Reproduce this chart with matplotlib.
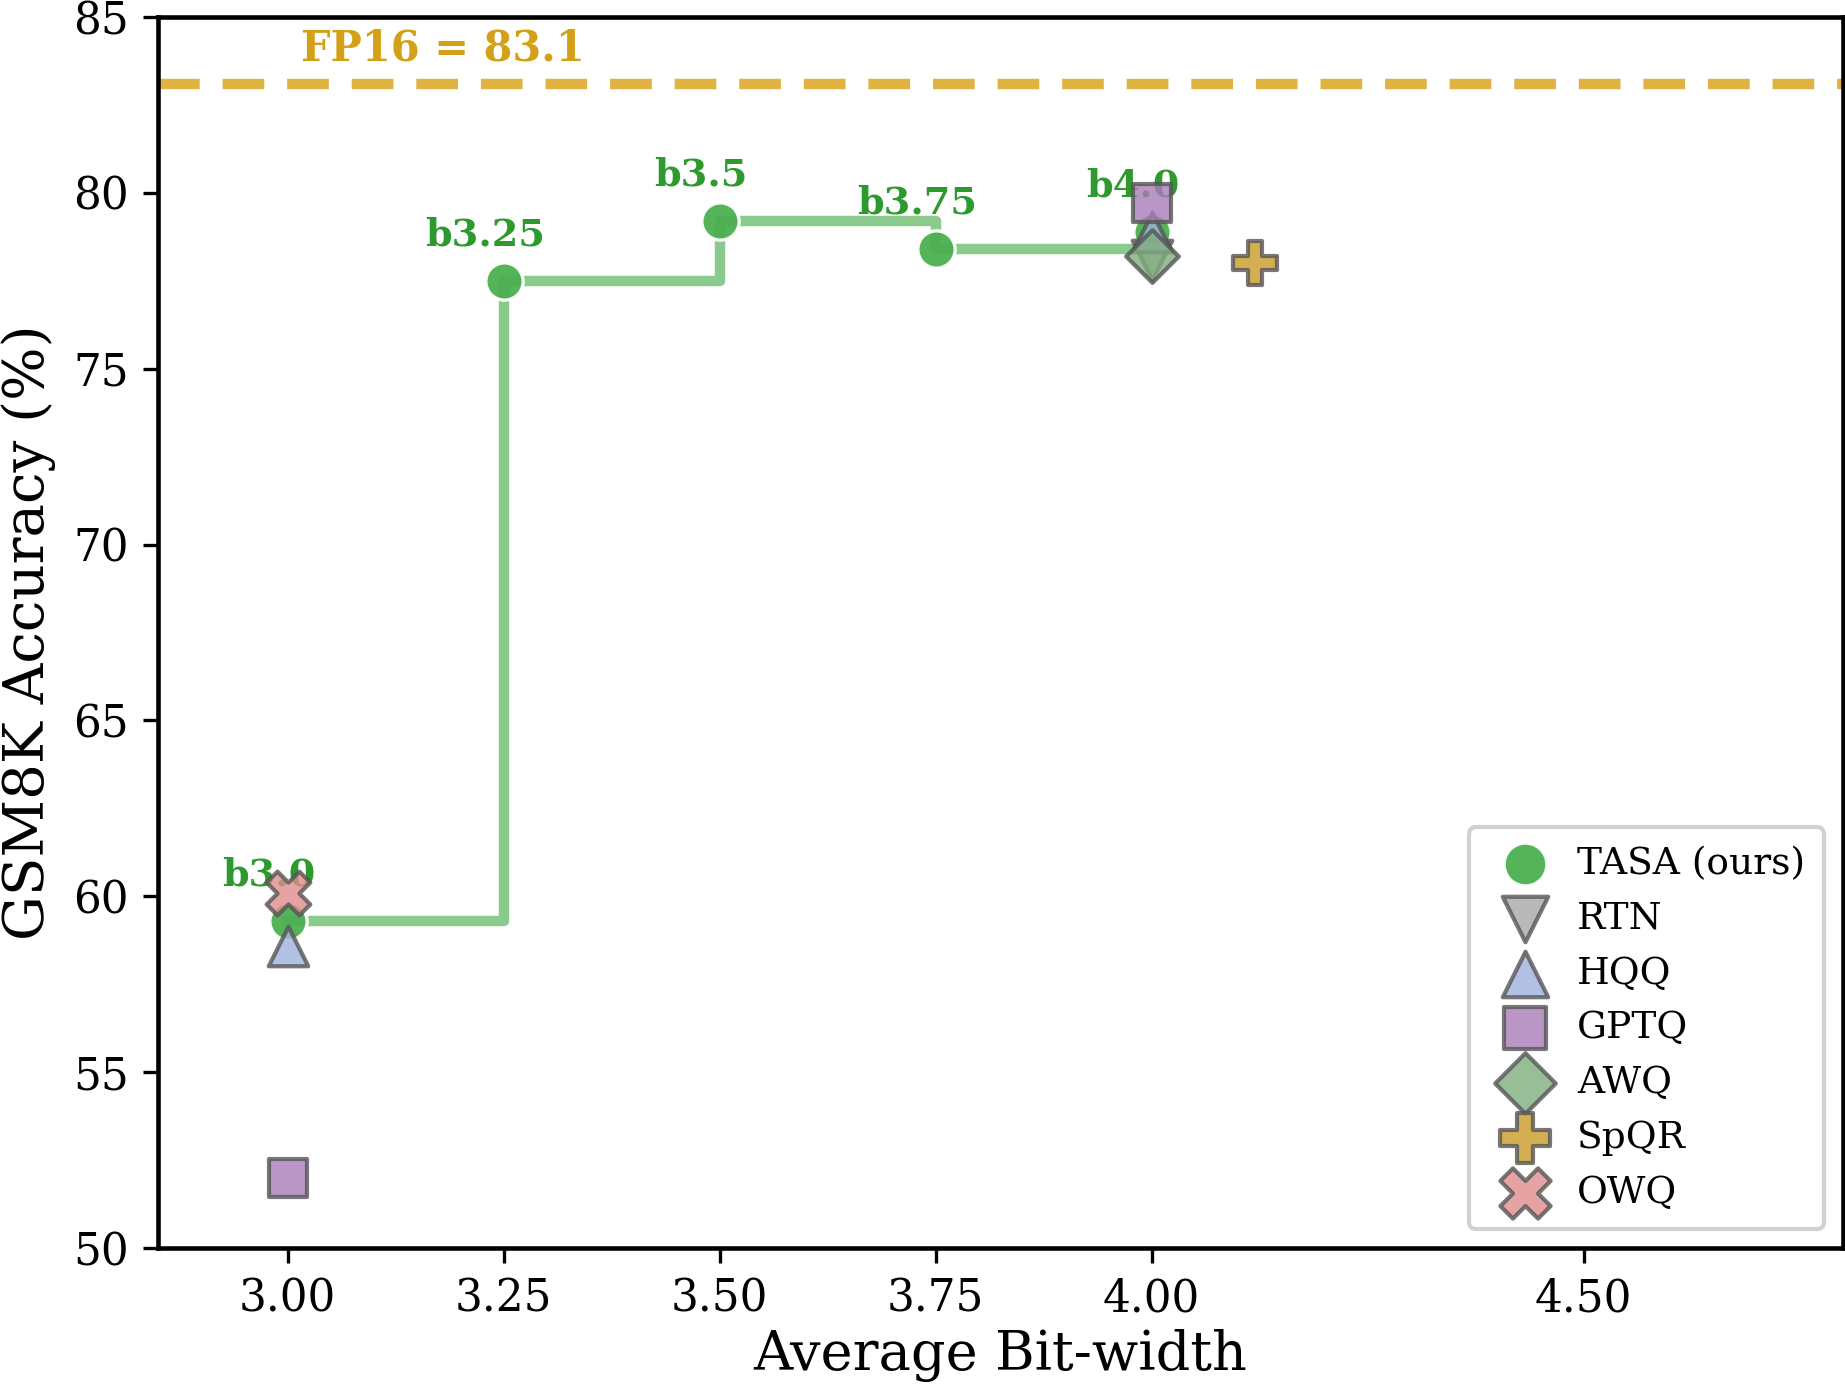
import matplotlib
matplotlib.use("Agg")
import matplotlib.pyplot as plt

plt.rcParams['font.family'] = ['DejaVu Serif']

# TASA (ours) step curve
tasa_bits = [3.0, 3.25, 3.5, 3.75, 4.0]
tasa_acc = [59.3, 77.5, 79.2, 78.4, 78.9]
tasa_labels = ['b3.0', 'b3.25', 'b3.5', 'b3.75', 'b4.0']

# baselines
rtn_bits, rtn_acc = [4.0], [78.1]
hqq_bits, hqq_acc = [3.0, 4.0], [58.6, 78.9]
gptq_bits, gptq_acc = [3.0, 4.0], [52.0, 79.7]
awq_bits, awq_acc = [4.0], [78.2]
spqr_bits, spqr_acc = [4.12], [78.0]
owq_bits, owq_acc = [3.0], [60.1]

fp16 = 83.1
xticks = [3.0, 3.25, 3.5, 3.75, 4.0, 4.5]

fig = plt.figure(figsize=(6.15, 4.6367), dpi=300)
ax = fig.add_axes([0.0856, 0.1028, 0.9133, 0.8850])

green = '#4caf50'
ax.step(tasa_bits, tasa_acc, where='post', color=green, alpha=0.65, lw=2.5, zorder=2)
ax.scatter(tasa_bits, tasa_acc, s=80, color=green, edgecolor='white', linewidth=0.8,
           alpha=0.95, zorder=3, label='TASA (ours)')
for x, y, t in zip(tasa_bits, tasa_acc, tasa_labels):
    ax.annotate(t, (x, y), xytext=(-4.5, 11), textcoords='offset points', ha='center',
                va='center', fontsize=9.2, fontweight='bold', color='#2e9a2e', zorder=2.5)

ec = '#555555'
ax.scatter(rtn_bits, rtn_acc, marker='v', s=90, color='#a8a8a8', edgecolor=ec, lw=1, alpha=0.8, zorder=4, label='RTN')
ax.scatter(hqq_bits, hqq_acc, marker='^', s=90, color='#9fb2dc', edgecolor=ec, lw=1, alpha=0.8, zorder=4, label='HQQ')
ax.scatter(gptq_bits, gptq_acc, marker='s', s=80, color='#a97cba', edgecolor=ec, lw=1, alpha=0.8, zorder=5, label='GPTQ')
ax.scatter(awq_bits, awq_acc, marker='D', s=80, color='#7fae7f', edgecolor=ec, lw=1, alpha=0.8, zorder=5, label='AWQ')
ax.scatter(spqr_bits, spqr_acc, marker='P', s=110, color='#c99a28', edgecolor=ec, lw=1, alpha=0.8, zorder=5, label='SpQR')
ax.scatter(owq_bits, owq_acc, marker='X', s=110, color='#e08c8c', edgecolor=ec, lw=1, alpha=0.8, zorder=5, label='OWQ')

ax.axhline(fp16, color='#daa520', alpha=0.85, lw=2.5, ls=(0, (4, 2.2)), zorder=1)
ax.text(3.18, 84.1, f'FP16 = {fp16}', ha='center', va='center', fontsize=10,
        fontweight='bold', color='#d4a017')

ax.set_xlim(2.85, 4.80)
ax.set_ylim(50, 85)
ax.set_xticks(xticks)
ax.set_xticklabels([f'{v:.2f}' for v in xticks])
ax.tick_params(labelsize=10.5)
ax.set_xlabel('Average Bit-width', fontsize=13, labelpad=2)
ax.set_ylabel('GSM8K Accuracy (%)', fontsize=13.5, labelpad=4)
for s in ax.spines.values():
    s.set_linewidth(1.1)

ax.legend(loc='lower right', fontsize=9, markerscale=1.15, handletextpad=0.4,
          labelspacing=0.5, borderpad=0.5, framealpha=0.9, edgecolor='#cccccc')

fig.savefig('out.png', dpi=300)
